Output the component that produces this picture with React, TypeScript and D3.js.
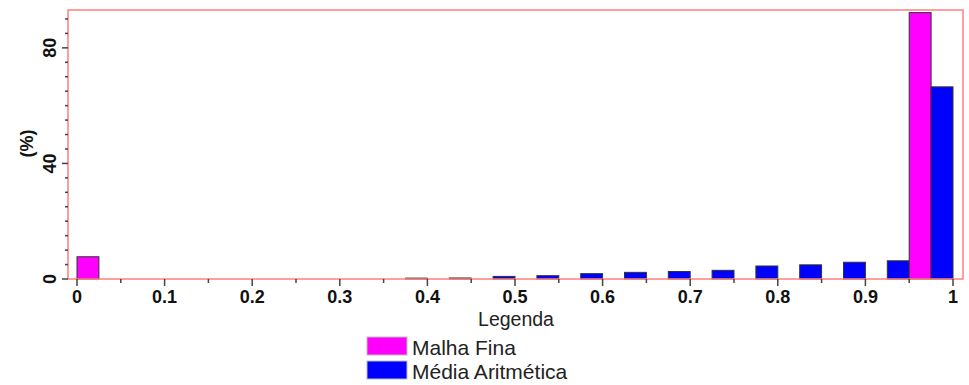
import React from "react";
import * as d3 from "d3";

const binStarts = [0, 0.05, 0.1, 0.15, 0.2, 0.25, 0.3, 0.35, 0.4, 0.45, 0.5, 0.55, 0.6, 0.65, 0.7, 0.75, 0.8, 0.85, 0.9, 0.95];
const malhaFina = [7.7, 0, 0, 0, 0, 0, 0, 0, 0, 0, 0, 0, 0, 0, 0, 0, 0, 0, 0, 92.2];
const mediaAritmetica = [0, 0, 0, 0, 0, 0, 0, 0.3, 0.35, 0.9, 1.15, 1.85, 2.3, 2.6, 3.0, 4.5, 4.9, 5.8, 6.3, 66.5];
const xTicks = [0, 0.1, 0.2, 0.3, 0.4, 0.5, 0.6, 0.7, 0.8, 0.9, 1];
const xMinorTicks = [0.05, 0.15, 0.25, 0.35, 0.45, 0.55, 0.65, 0.75, 0.85, 0.95];
const yTicks = [0, 40, 80];
const yMinorTicks = [5, 10, 15, 20, 25, 30, 35, 45, 50, 55, 60, 65, 70, 75, 85, 90];
const seriesNames = ["Malha Fina", "Média Aritmética"];
const seriesColors = ["#ff00ff", "#0000ff"];
const binWidth = 0.05;

export default function App() {
  const W = 969, H = 385;
  const frame = { left: 68, top: 10, right: 963, bottom: 279 };
  const x = d3.scaleLinear().domain([0, 1]).range([77, 953]);
  const y = d3.scaleLinear().domain([0, 93.1]).range([279, 10]);
  const font = "'Liberation Sans', Arial, sans-serif";
  const tickColor = "#444";

  const bars: { x0: number; x1: number; v: number; c: string }[] = [];
  binStarts.forEach((b, i) => {
    const series = [malhaFina[i], mediaAritmetica[i]];
    series.forEach((v, s) => {
      if (v <= 0) return;
      const x0 = b + (s * binWidth) / 2;
      bars.push({ x0, x1: x0 + binWidth / 2, v, c: seriesColors[s] });
    });
  });

  return (
    <svg width={W} height={H} style={{ position: "absolute", left: 0, top: 0, background: "#fff" }} fontFamily={font}>
      {bars.map((d, i) => (
        <rect
          key={i}
          x={x(d.x0)}
          y={y(d.v)}
          width={x(d.x1) - x(d.x0)}
          height={y(0) - y(d.v)}
          fill={d.c}
          stroke="#333"
          strokeWidth={1}
        />
      ))}
      <rect
        x={frame.left}
        y={frame.top}
        width={frame.right - frame.left}
        height={frame.bottom - frame.top}
        fill="none"
        stroke="#ff7f7f"
        strokeWidth={1.5}
      />
      {xTicks.map((t) => (
        <g key={"xt" + t}>
          <line x1={x(t)} x2={x(t)} y1={frame.bottom} y2={frame.bottom + 7} stroke={tickColor} strokeWidth={1.5} />
          <text x={x(t)} y={303} textAnchor="middle" fontSize={18} fontWeight="bold" fill="#111">
            {String(t)}
          </text>
        </g>
      ))}
      {xMinorTicks.map((t) => (
        <line key={"xm" + t} x1={x(t)} x2={x(t)} y1={frame.bottom} y2={frame.bottom + 4} stroke={tickColor} strokeWidth={1.5} />
      ))}
      {yTicks.map((t) => (
        <g key={"yt" + t}>
          <line x1={frame.left - 6} x2={frame.left} y1={y(t)} y2={y(t)} stroke={tickColor} strokeWidth={1.5} />
          <text
            transform={`translate(56,${y(t)}) rotate(-90)`}
            textAnchor="middle"
            fontSize={18}
            fontWeight="bold"
            fill="#111"
          >
            {String(t)}
          </text>
        </g>
      ))}
      {yMinorTicks.map((t) => (
        <line key={"ym" + t} x1={frame.left - 3} x2={frame.left} y1={y(t)} y2={y(t)} stroke={tickColor} strokeWidth={1.5} />
      ))}
      <text transform="translate(33,143.5) rotate(-90)" textAnchor="middle" fontSize={18} fontWeight="bold" fill="#111">
        (%)
      </text>
      <text x={516} y={325.5} textAnchor="middle" fontSize={19.5} fill="#222">
        Legenda
      </text>
      {seriesNames.map((n, i) => (
        <g key={n}>
          <rect x={367} y={337 + i * 24} width={40} height={18} fill={seriesColors[i]} stroke="#bbb" strokeWidth={1} />
          <text x={412} y={355 + i * 23.5} fontSize={21} fill="#222">
            {n}
          </text>
        </g>
      ))}
    </svg>
  );
}
